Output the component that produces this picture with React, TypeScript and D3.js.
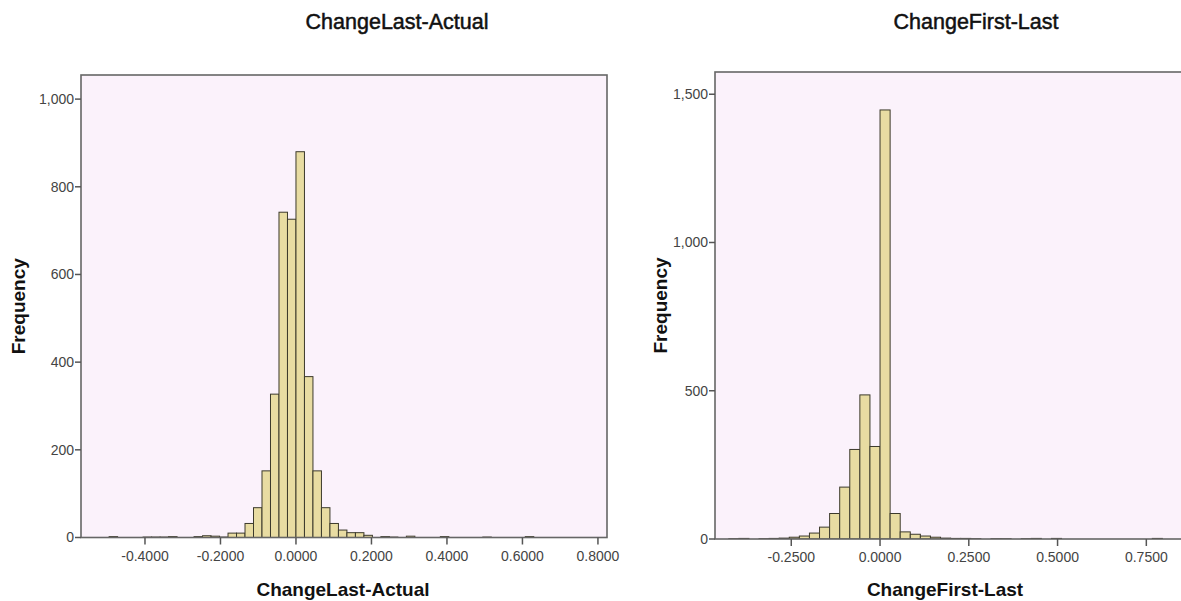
import React, { useEffect } from "react";
import { scaleLinear, formatLocale } from "d3";

const width = 1181;
const height = 601;

// histogram counts, one value per bin (left to right)
const leftTitle = "ChangeLast-Actual";
const leftBinStart = -0.495;
const leftBinWidth = 0.0225;
const leftCounts = [
  2, 0, 0, 0, 1, 1, 1, 2, 0, 0, 2, 4, 3, 1, 10, 10, 32, 68, 152, 327, 742, 726,
  880, 367, 152, 68, 32, 17, 11, 11, 5, 0, 2, 1, 0, 3, 0, 0, 0, 2, 0, 0, 0, 0, 1,
  0, 0, 0, 0, 2,
];
const leftXTicks = [-0.4, -0.2, 0, 0.2, 0.4, 0.6, 0.8];
const leftYTicks = [0, 200, 400, 600, 800, 1000];

const rightTitle = "ChangeFirst-Last";
const rightBinStart = -0.426;
const rightBinWidth = 0.0284;
const rightCounts = [
  1, 2, 0, 1, 2, 3, 6, 10, 20, 40, 86, 175, 302, 486, 312, 1447, 86, 24, 16, 10,
  6, 3, 2, 2, 1, 0, 1, 1, 0, 1, 2, 0, 2, 0, 0, 0, 0, 0, 0, 0, 0, 0, 2,
];
const rightXTicks = [-0.25, 0, 0.25, 0.5, 0.75];
const rightYTicks = [0, 500, 1000, 1500];

const fmt = formatLocale({
  decimal: ".",
  thousands: ",",
  grouping: [3],
  currency: ["$", ""],
  minus: "-",
});
const fmtX = fmt.format(".4f");
const fmtY = fmt.format(",");

const font = "'Liberation Sans', Arial, sans-serif";

type PanelProps = {
  title: string;
  titleX: number;
  labelX: number;
  freqX: number;
  box: { left: number; right: number; top: number };
  xDomain: [number, number];
  yDomain: [number, number];
  yZero: number;
  binStart: number;
  binWidth: number;
  counts: number[];
  xTicks: number[];
  yTicks: number[];
};

const Panel = ({
  title,
  titleX,
  labelX,
  freqX,
  box,
  xDomain,
  yDomain,
  yZero,
  binStart,
  binWidth,
  counts,
  xTicks,
  yTicks,
}: PanelProps) => {
  const xScale = scaleLinear().domain(xDomain).range([box.left, box.right]);
  const yScale = scaleLinear().domain(yDomain).range([yZero, box.top]);
  const clipId = `clip-${title}`;

  return (
    <g>
      <defs>
        <clipPath id={clipId}>
          <rect
            x={box.left}
            y={box.top}
            width={box.right - box.left}
            height={yZero - box.top}
          />
        </clipPath>
      </defs>
      <text
        x={titleX}
        y={29}
        textAnchor="middle"
        style={{
          fontFamily: font,
          fontSize: 21.5,
          fill: "#111",
          stroke: "#111",
          strokeWidth: 0.5,
        }}
      >
        {title}
      </text>
      <rect
        x={box.left}
        y={box.top}
        width={box.right - box.left}
        height={yZero - box.top}
        fill="#fbf2fb"
      />
      <g clipPath={`url(#${clipId})`}>
        {counts.map((c, i) => {
          if (c === 0) return null;
          const x0 = xScale(binStart + i * binWidth);
          const x1 = xScale(binStart + (i + 1) * binWidth);
          return (
            <rect
              key={i}
              x={x0}
              y={yScale(c)}
              width={x1 - x0}
              height={yZero - yScale(c)}
              fill="#e8dca2"
              stroke="#3c3a2c"
              strokeWidth={1}
            />
          );
        })}
      </g>
      <rect
        x={box.left}
        y={box.top}
        width={box.right - box.left}
        height={yZero - box.top}
        fill="none"
        stroke="#666"
        strokeWidth={1.6}
      />
      {yTicks.map((t) => (
        <g key={t} transform={`translate(${box.left},${yScale(t)})`}>
          <line x1={-6} x2={0} stroke="#555" strokeWidth={1.5} />
          <text
            x={-7}
            dy=".35em"
            textAnchor="end"
            style={{ fontFamily: font, fontSize: 14, fill: "#444" }}
          >
            {fmtY(t)}
          </text>
        </g>
      ))}
      {xTicks.map((t) => (
        <g key={t} transform={`translate(${xScale(t)},${yZero})`}>
          <line y1={0} y2={7} stroke="#555" strokeWidth={1.5} />
          <text
            y={23}
            textAnchor="middle"
            style={{ fontFamily: font, fontSize: 14, fill: "#444" }}
          >
            {fmtX(t)}
          </text>
        </g>
      ))}
      <text
        x={labelX}
        y={596}
        textAnchor="middle"
        style={{ fontFamily: font, fontSize: 19, fontWeight: "bold", fill: "#111" }}
      >
        {title}
      </text>
      <text
        transform={`translate(${freqX},${(box.top + yZero) / 2}) rotate(-90)`}
        textAnchor="middle"
        style={{ fontFamily: font, fontSize: 19, fontWeight: "bold", fill: "#111" }}
      >
        Frequency
      </text>
    </g>
  );
};

export default function App() {
  useEffect(() => {
    document.body.style.margin = "0";
  }, []);

  return (
    <svg
      width={width}
      height={height}
      style={{ display: "block", background: "#fff" }}
    >
      <Panel
        title={leftTitle}
        titleX={397}
        labelX={343}
        freqX={25}
        box={{ left: 81, right: 607, top: 75 }}
        xDomain={[-0.5695, 0.824]}
        yDomain={[0, 1055]}
        yZero={537.5}
        binStart={leftBinStart}
        binWidth={leftBinWidth}
        counts={leftCounts}
        xTicks={leftXTicks}
        yTicks={leftYTicks}
      />
      <Panel
        title={rightTitle}
        titleX={976}
        labelX={945}
        freqX={667}
        box={{ left: 715, right: 1190, top: 72 }}
        xDomain={[-0.4648, 0.873]}
        yDomain={[0, 1575]}
        yZero={539}
        binStart={rightBinStart}
        binWidth={rightBinWidth}
        counts={rightCounts}
        xTicks={rightXTicks}
        yTicks={rightYTicks}
      />
    </svg>
  );
}
